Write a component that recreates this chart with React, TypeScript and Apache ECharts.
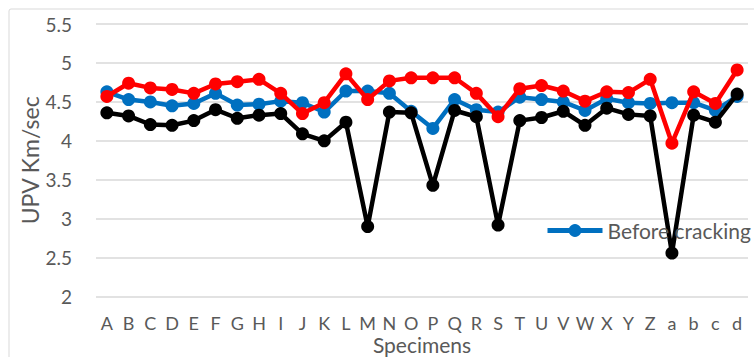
import React, { useEffect, useRef } from "react";
import * as echarts from "echarts";

const categories = ["A","B","C","D","E","F","G","H","I","J","K","L","M","N","O","P","Q","R","S","T","U","V","W","X","Y","Z","a","b","c","d"];
const yTicks = { min: 2, max: 5.5, interval: 0.5 };

const beforeCracking = [4.63,4.53,4.50,4.45,4.48,4.61,4.46,4.47,4.51,4.49,4.37,4.64,4.64,4.61,4.38,4.16,4.53,4.40,4.37,4.56,4.53,4.50,4.39,4.54,4.49,4.48,4.49,4.49,4.39,4.57];
const seriesRed = [4.57,4.74,4.68,4.66,4.61,4.73,4.76,4.79,4.61,4.35,4.49,4.86,4.53,4.77,4.81,4.81,4.81,4.61,4.31,4.67,4.71,4.64,4.51,4.63,4.62,4.79,3.97,4.63,4.48,4.91];
const seriesBlack = [4.36,4.32,4.21,4.20,4.26,4.40,4.29,4.33,4.35,4.09,4.00,4.24,2.90,4.37,4.36,3.43,4.39,4.31,2.92,4.26,4.30,4.38,4.20,4.42,4.34,4.32,2.56,4.33,4.24,4.60];

const FONT = "Lato, 'Open Sans', sans-serif";
const TXT = "#595959";

export default function App() {
  const ref = useRef<HTMLDivElement>(null);
  useEffect(() => {
    if (!ref.current) return;
    const chart = echarts.init(ref.current, undefined, { renderer: "svg" });
    const mk = (name: string, data: number[], color: string, z: number) => ({
      name,
      type: "line",
      data,
      symbol: "circle",
      symbolSize: 13,
      z,
      itemStyle: { color },
      lineStyle: { color, width: 4.5 },
    });
    chart.setOption({
      animation: false,
      backgroundColor: "#ffffff",
      textStyle: { fontFamily: FONT },
      graphic: [
        {
          type: "rect",
          shape: { x: 9, y: 9, width: 800, height: 400, r: 2 },
          style: { fill: "none", stroke: "#D9D9D9", lineWidth: 1 },
          silent: true,
          z: -1,
        },
      ],
      grid: {
        left: 96,
        right: 6,
        top: 24,
        bottom: 60.3,
        containLabel: false,
        outerBoundsMode: "none",
      },
      legend: {
        data: ["Before cracking"],
        left: 545,
        top: 220,
        padding: 0,
        itemWidth: 55,
        itemHeight: 16,
        itemGap: 5,
        lineStyle: { width: 5 },
        textStyle: { color: TXT, fontSize: 21, fontFamily: FONT },
      },
      xAxis: {
        type: "category",
        data: categories,
        boundaryGap: true,
        axisLine: { show: false },
        axisTick: { show: false },
        axisLabel: { color: TXT, fontSize: 18, margin: 17, interval: 0, fontFamily: FONT },
        name: "Specimens",
        nameLocation: "middle",
        nameGap: 37,
        nameMoveOverlap: false,
        nameTextStyle: { color: TXT, fontSize: 21, fontFamily: FONT },
      },
      yAxis: {
        type: "value",
        min: yTicks.min,
        max: yTicks.max,
        interval: yTicks.interval,
        axisLine: { show: false },
        axisTick: { show: false },
        splitLine: { lineStyle: { color: "#D9D9D9", width: 1.5 } },
        axisLabel: { color: TXT, fontSize: 19, margin: 24, fontFamily: FONT },
        name: "UPV Km/sec",
        nameLocation: "middle",
        nameGap: 55,
        nameMoveOverlap: false,
        nameTextStyle: { color: TXT, fontSize: 23, fontFamily: FONT },
      },
      series: [
        mk("Before cracking", beforeCracking, "#0070C0", 2),
        mk("After cracking", seriesBlack, "#000000", 3),
        mk("After repair", seriesRed, "#FF0000", 4),
      ],
    });
    return () => chart.dispose();
  }, []);
  return (
    <div
      ref={ref}
      style={{ position: "fixed", left: 0, top: 0, width: 754, height: 357 }}
    />
  );
}
